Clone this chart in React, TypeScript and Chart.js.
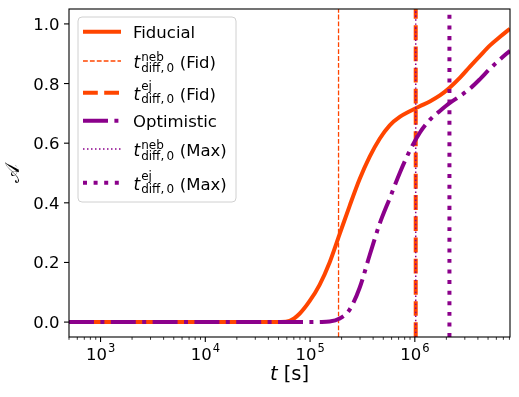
import { useEffect, useRef } from "react";
import { Chart, registerables } from "chart.js";

Chart.register(...registerables);

// ---- data ----
const fiducialT = [500, 1e3, 1e4, 4e4, 5.1e4, 6.37e4, 7.94e4, 9.89e4, 1.233e5, 1.537e5, 1.915e5, 2.387e5, 2.975e5, 3.71e5, 4.62e5, 5.76e5, 7.18e5, 8.96e5, 1.116e6, 1.39e6, 1.735e6, 2.16e6, 2.7e6, 3.36e6, 4.19e6, 5.22e6, 6.51e6, 8.1e6];
const fiducialA = [0, 0, 0, 0, 0.0005, 0.004, 0.028, 0.07, 0.125, 0.2, 0.295, 0.39, 0.48, 0.555, 0.615, 0.66, 0.688, 0.707, 0.724, 0.74, 0.76, 0.787, 0.82, 0.857, 0.893, 0.928, 0.957, 0.984];
const optimisticT = [500, 1e4, 1e5, 1.233e5, 1.537e5, 1.915e5, 2.387e5, 2.975e5, 3.71e5, 4.62e5, 5.76e5, 7.18e5, 8.96e5, 1.116e6, 1.39e6, 1.735e6, 2.16e6, 2.7e6, 3.36e6, 4.19e6, 5.22e6, 6.51e6, 8.1e6];
const optimisticA = [0, 0, 0, 0.0005, 0.002, 0.012, 0.042, 0.115, 0.225, 0.33, 0.415, 0.5, 0.575, 0.635, 0.678, 0.708, 0.735, 0.758, 0.783, 0.815, 0.85, 0.881, 0.91];
const tNebFid = 1.87e5;
const tEjFid = 1.02e6;
const tNebMax = 1.02e6;
const tEjMax = 2.14e6;
const xRange = [500, 8.1e6];
const yRange = [-0.05, 1.05];
const yTicks = [0, 0.2, 0.4, 0.6, 0.8, 1.0];
const xMajorExponents = [3, 4, 5, 6];
const legendNames = ["Fiducial", "neb|Fid", "ej|Fid", "Optimistic", "neb|Max", "ej|Max"];

const FONT = '"DejaVu Sans", sans-serif';
const ORANGE = "#FF4500";
const PURPLE = "#8B008B";

const styles = [
  { color: ORANGE, width: 4, dash: [] as number[] },
  { color: ORANGE, width: 1.3, dash: [4.8, 2.1] },
  { color: ORANGE, width: 4, dash: [14.8, 6.4] },
  { color: PURPLE, width: 4, dash: [25, 6.4, 4, 6.4] },
  { color: PURPLE, width: 1.5, dash: [1.5, 2.5] },
  { color: PURPLE, width: 4, dash: [4, 6.6] },
];

function vline(t: number) {
  return [
    { x: t, y: yRange[0] },
    { x: t, y: yRange[1] },
  ];
}

const overlay = {
  id: "overlay",
  afterDraw(chart: any) {
    const ctx = chart.ctx as CanvasRenderingContext2D;
    const area = chart.chartArea;
    const xs = chart.scales.x;
    const ys = chart.scales.y;
    ctx.save();
    // frame
    ctx.strokeStyle = "#000";
    ctx.lineWidth = 1.1;
    ctx.setLineDash([]);
    ctx.strokeRect(area.left, area.top, area.right - area.left, area.bottom - area.top);

    // y ticks
    ctx.fillStyle = "#000";
    ctx.font = `16.5px ${FONT}`;
    ctx.textAlign = "right";
    ctx.textBaseline = "alphabetic";
    for (const v of yTicks) {
      const py = ys.getPixelForValue(v);
      ctx.beginPath();
      ctx.moveTo(area.left, py);
      ctx.lineTo(area.left - 5, py);
      ctx.stroke();
      ctx.fillText(v.toFixed(1), area.left - 9.5, py + 6);
    }

    // x ticks (log)
    for (let e = 2; e <= 7; e++) {
      for (let m = 1; m <= 9; m++) {
        const v = m * Math.pow(10, e);
        if (v < xRange[0] || v > xRange[1]) continue;
        const px = xs.getPixelForValue(v);
        const len = m === 1 ? 5 : 2.8;
        ctx.lineWidth = m === 1 ? 1.1 : 0.8;
        ctx.beginPath();
        ctx.moveTo(px, area.bottom);
        ctx.lineTo(px, area.bottom + len);
        ctx.stroke();
      }
    }
    for (const e of xMajorExponents) {
      const px = xs.getPixelForValue(Math.pow(10, e));
      ctx.font = `16.5px ${FONT}`;
      const w1 = ctx.measureText("10").width;
      ctx.font = `11.5px ${FONT}`;
      const w2 = ctx.measureText(String(e)).width;
      const x0 = px - (w1 + w2 + 1) / 2;
      ctx.textAlign = "left";
      ctx.font = `16.5px ${FONT}`;
      ctx.fillText("10", x0, area.bottom + 23);
      ctx.font = `11.5px ${FONT}`;
      ctx.fillText(String(e), x0 + w1 + 1, area.bottom + 15);
    }

    // x title
    ctx.font = `italic 19.5px ${FONT}`;
    const wt = ctx.measureText("t").width;
    ctx.font = `19.5px ${FONT}`;
    const ws = ctx.measureText(" [s]").width;
    const cx = (area.left + area.right) / 2;
    const tx = cx - (wt + ws) / 2;
    ctx.textAlign = "left";
    ctx.font = `italic 19.5px ${FONT}`;
    ctx.fillText("t", tx, area.bottom + 43);
    ctx.font = `19.5px ${FONT}`;
    ctx.fillText(" [s]", tx + wt, area.bottom + 43);

    // y title
    ctx.save();
    ctx.translate(14, (area.top + area.bottom) / 2);
    ctx.rotate(-Math.PI / 2);
    ctx.textAlign = "center";
    ctx.textBaseline = "middle";
    ctx.font = `19.5px ${FONT}`;
    ctx.fillText("\u{1D49C}", 0, 0);
    ctx.restore();

    // legend
    const lx = 78, ly = 17, lw = 158, lh = 185;
    ctx.beginPath();
    const r = 4;
    ctx.moveTo(lx + r, ly);
    ctx.arcTo(lx + lw, ly, lx + lw, ly + lh, r);
    ctx.arcTo(lx + lw, ly + lh, lx, ly + lh, r);
    ctx.arcTo(lx, ly + lh, lx, ly, r);
    ctx.arcTo(lx, ly, lx + lw, ly, r);
    ctx.closePath();
    ctx.fillStyle = "rgba(255,255,255,0.85)";
    ctx.fill();
    ctx.strokeStyle = "#d0d0d0";
    ctx.lineWidth = 1;
    ctx.stroke();

    const rowC = [31.7, 61, 92.7, 120.7, 149, 182.7];
    legendNames.forEach((name, i) => {
      const c = rowC[i];
      const st = styles[i];
      ctx.strokeStyle = st.color;
      ctx.lineWidth = st.width;
      ctx.setLineDash(st.dash);
      ctx.lineCap = "butt";
      ctx.beginPath();
      ctx.moveTo(83, c);
      ctx.lineTo(121, c);
      ctx.stroke();
      ctx.setLineDash([]);
      ctx.fillStyle = "#000";
      ctx.textAlign = "left";
      ctx.textBaseline = "alphabetic";
      const x = 133;
      if (name.indexOf("|") < 0) {
        ctx.font = `16.5px ${FONT}`;
        ctx.fillText(name, x, c + 6);
      } else {
        const [sup, tag] = name.split("|");
        const isEj = sup === "ej";
        const base = c + 7.3;
        ctx.font = `italic 17px ${FONT}`;
        ctx.fillText("t", x + 0.5, base);
        const w = ctx.measureText("t").width;
        const sx = x + w + 1.5;
        ctx.font = `12px ${FONT}`;
        ctx.fillText(sup, sx, isEj ? c - 2.5 : c);
        ctx.fillText("diff,", sx, c + 10.5);
        const wd = ctx.measureText("diff,").width;
        ctx.fillText("0", sx + wd + 2.2, c + 10.5);
        const w0 = ctx.measureText("0").width;
        const wsup = ctx.measureText(sup).width;
        const end = sx + Math.max(wd + 2.2 + w0, wsup);
        ctx.font = `16.5px ${FONT}`;
        ctx.fillText(` (${tag})`, end + 0.5, base);
      }
    });
    ctx.restore();
  },
};

export default function App() {
  const ref = useRef<HTMLCanvasElement | null>(null);
  useEffect(() => {
    if (!ref.current) return;
    const mk = (ts: number[], as: number[]) => ts.map((t, i) => ({ x: t, y: as[i] }));
    const series = [
      mk(fiducialT, fiducialA),
      vline(tNebFid),
      vline(tEjFid),
      mk(optimisticT, optimisticA),
      vline(tNebMax),
      vline(tEjMax),
    ];
    const datasets = series.map((data, i) => ({
      label: legendNames[i],
      data,
      borderColor: styles[i].color,
      backgroundColor: styles[i].color,
      borderWidth: styles[i].width,
      borderDash: styles[i].dash,
      borderCapStyle: "butt" as const,
      borderJoinStyle: "round" as const,
      pointRadius: 0,
      fill: false,
      cubicInterpolationMode: "monotone" as const,
      order: 6 - i,
      clip: 0,
    }));
    const chart = new Chart(ref.current, {
      type: "line",
      data: { datasets },
      options: {
        responsive: false,
        animation: false,
        devicePixelRatio: 1,
        layout: { padding: { top: 9, right: 9, left: 0, bottom: 0 } },
        plugins: { legend: { display: false }, tooltip: { enabled: false } },
        events: [],
        scales: {
          x: {
            type: "logarithmic",
            min: xRange[0],
            max: xRange[1],
            ticks: { display: false },
            grid: { display: false },
            border: { display: false },
            afterFit: (s: any) => {
              s.height = 60;
            },
          },
          y: {
            type: "linear",
            min: yRange[0],
            max: yRange[1],
            ticks: { display: false },
            grid: { display: false },
            border: { display: false },
            afterFit: (s: any) => {
              s.width = 69;
            },
          },
        },
      },
      plugins: [overlay],
    });
    return () => chart.destroy();
  }, []);
  return (
    <div style={{ position: "absolute", left: 0, top: 0, width: 519, height: 397, background: "#fff" }}>
      <canvas ref={ref} width={519} height={397} style={{ width: 519, height: 397 }} />
    </div>
  );
}
